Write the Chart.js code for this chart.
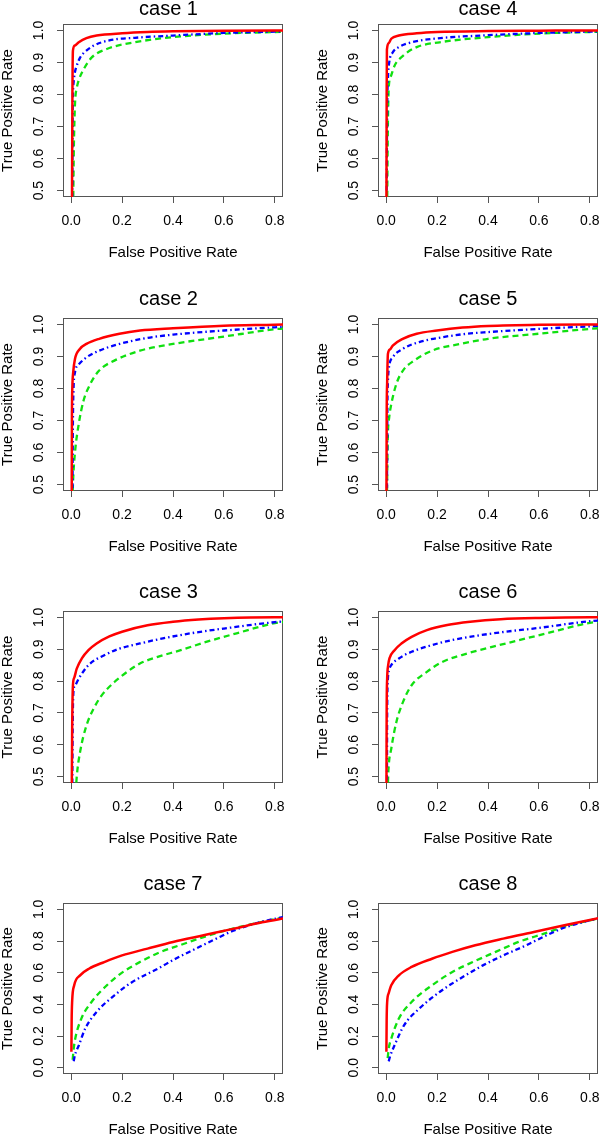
<!DOCTYPE html>
<html><head><meta charset="utf-8">
<script src="https://cdn.jsdelivr.net/npm/chart.js@4.4.1/dist/chart.umd.min.js"></script>
<style>
html,body{margin:0;padding:0;background:#fff;width:600px;height:1136px;overflow:hidden;position:relative}
canvas{position:absolute}
</style></head><body>
<script>
// ---- data ----
const caseTitles = ['case 1','case 2','case 3','case 4','case 5','case 6','case 7','case 8'];
const xTicks = [0, 0.2, 0.4, 0.6, 0.8];
const yTicksHigh = [0.5, 0.6, 0.7, 0.8, 0.9, 1.0];
const yTicksFull = [0, 0.2, 0.4, 0.6, 0.8, 1.0];
const xLabel = 'False Positive Rate';
const yLabel = 'True Positive Rate';

// [false positive rate, true positive rate]
const case1Red = [[0.003,0.40],[0.005,0.80],[0.007,0.937],[0.015,0.953],[0.03,0.963],[0.06,0.976],[0.1,0.984],[0.2,0.991],[0.3,0.995],[0.4,0.997],[0.6,0.999],[0.8,1.0],[0.85,1.0]];
const case1Blue = [[0.004,0.40],[0.006,0.75],[0.01,0.84],[0.015,0.87],[0.022,0.89],[0.035,0.915],[0.05,0.93],[0.09,0.953],[0.15,0.969],[0.25,0.977],[0.4,0.984],[0.6,0.992],[0.8,0.996],[0.85,0.997]];
const case1Green = [[0.008,0.45],[0.01,0.60],[0.013,0.72],[0.016,0.785],[0.022,0.82],[0.03,0.845],[0.05,0.88],[0.08,0.915],[0.14,0.942],[0.25,0.963],[0.4,0.979],[0.6,0.99],[0.8,0.995],[0.85,0.996]];

const case2Red = [[0.002,0.40],[0.003,0.70],[0.005,0.81],[0.008,0.85],[0.015,0.892],[0.035,0.924],[0.06,0.939],[0.11,0.955],[0.19,0.971],[0.27,0.981],[0.4,0.988],[0.6,0.996],[0.8,0.999],[0.85,1.0]];
const case2Blue = [[0.005,0.45],[0.007,0.70],[0.009,0.79],[0.015,0.85],[0.03,0.875],[0.06,0.897],[0.11,0.918],[0.19,0.939],[0.3,0.958],[0.4,0.968],[0.6,0.981],[0.8,0.991],[0.85,0.993]];
const case2Green = [[0.005,0.45],[0.008,0.52],[0.015,0.60],[0.03,0.69],[0.048,0.76],[0.075,0.814],[0.11,0.856],[0.17,0.887],[0.27,0.918],[0.4,0.939],[0.6,0.962],[0.8,0.985],[0.85,0.988]];

const case3Red = [[0.002,0.40],[0.004,0.65],[0.007,0.787],[0.012,0.81],[0.022,0.839],[0.042,0.871],[0.068,0.897],[0.1,0.918],[0.15,0.94],[0.2,0.955],[0.3,0.975],[0.4,0.986],[0.5,0.993],[0.6,0.997],[0.8,1.0],[0.85,1.0]];
const case3Blue = [[0.004,0.40],[0.006,0.65],[0.009,0.766],[0.015,0.785],[0.03,0.808],[0.068,0.85],[0.13,0.881],[0.19,0.902],[0.27,0.918],[0.36,0.934],[0.47,0.95],[0.6,0.965],[0.8,0.985],[0.85,0.988]];
const case3Green = [[0.018,0.45],[0.022,0.50],[0.035,0.577],[0.06,0.66],[0.088,0.713],[0.12,0.755],[0.17,0.797],[0.22,0.829],[0.27,0.855],[0.34,0.876],[0.43,0.897],[0.53,0.923],[0.65,0.95],[0.8,0.982],[0.85,0.987]];

const case4Red = [[0.001,0.40],[0.002,0.80],[0.003,0.94],[0.01,0.96],[0.02,0.974],[0.05,0.984],[0.12,0.991],[0.2,0.995],[0.4,0.998],[0.6,0.999],[0.8,1.0],[0.85,1.0]];
const case4Blue = [[0.002,0.50],[0.004,0.75],[0.007,0.85],[0.012,0.90],[0.025,0.93],[0.05,0.948],[0.1,0.963],[0.2,0.975],[0.4,0.985],[0.6,0.992],[0.8,0.996],[0.85,0.997]];
const case4Green = [[0.004,0.45],[0.006,0.65],[0.008,0.76],[0.01,0.82],[0.02,0.86],[0.033,0.89],[0.065,0.92],[0.12,0.948],[0.21,0.963],[0.4,0.979],[0.6,0.99],[0.8,0.995],[0.85,0.996]];

const case5Red = [[0.001,0.40],[0.002,0.70],[0.004,0.82],[0.007,0.908],[0.015,0.922],[0.026,0.934],[0.065,0.955],[0.12,0.971],[0.2,0.981],[0.3,0.99],[0.4,0.995],[0.6,0.999],[0.8,1.0],[0.85,1.0]];
const case5Blue = [[0.003,0.45],[0.005,0.75],[0.007,0.82],[0.01,0.86],[0.026,0.897],[0.066,0.924],[0.13,0.945],[0.22,0.96],[0.32,0.971],[0.4,0.976],[0.6,0.986],[0.8,0.994],[0.85,0.996]];
const case5Green = [[0.003,0.45],[0.005,0.58],[0.007,0.66],[0.012,0.71],[0.02,0.75],[0.04,0.814],[0.066,0.856],[0.11,0.887],[0.18,0.918],[0.29,0.939],[0.4,0.955],[0.6,0.971],[0.8,0.986],[0.85,0.989]];

const case6Red = [[0.001,0.40],[0.002,0.70],[0.004,0.808],[0.008,0.85],[0.013,0.871],[0.033,0.897],[0.06,0.918],[0.1,0.939],[0.16,0.96],[0.24,0.976],[0.33,0.986],[0.45,0.994],[0.6,0.998],[0.8,1.0],[0.85,1.0]];
const case6Blue = [[0.003,0.45],[0.004,0.70],[0.007,0.808],[0.012,0.835],[0.02,0.85],[0.05,0.871],[0.1,0.892],[0.18,0.913],[0.26,0.929],[0.37,0.944],[0.47,0.955],[0.6,0.967],[0.8,0.988],[0.85,0.991]];
const case6Green = [[0.006,0.45],[0.009,0.52],[0.02,0.587],[0.04,0.671],[0.066,0.734],[0.1,0.787],[0.16,0.829],[0.22,0.86],[0.32,0.887],[0.42,0.908],[0.55,0.934],[0.68,0.96],[0.8,0.983],[0.85,0.987]];

const case7Red = [[0.001,0.10],[0.002,0.30],[0.004,0.42],[0.012,0.52],[0.035,0.583],[0.07,0.625],[0.13,0.667],[0.2,0.709],[0.3,0.752],[0.4,0.794],[0.52,0.836],[0.64,0.878],[0.75,0.918],[0.85,0.947]];
const case7Blue = [[0.01,0.04],[0.015,0.08],[0.03,0.14],[0.055,0.246],[0.1,0.352],[0.17,0.457],[0.24,0.541],[0.34,0.625],[0.41,0.688],[0.49,0.752],[0.57,0.815],[0.64,0.867],[0.74,0.918],[0.85,0.957]];
const case7Green = [[0.006,0.05],[0.01,0.12],[0.016,0.183],[0.04,0.31],[0.08,0.415],[0.14,0.52],[0.2,0.60],[0.27,0.667],[0.35,0.73],[0.43,0.775],[0.52,0.825],[0.61,0.868],[0.72,0.91],[0.85,0.955]];

const case8Red = [[0.001,0.10],[0.002,0.30],[0.004,0.415],[0.01,0.47],[0.02,0.52],[0.05,0.583],[0.1,0.636],[0.18,0.688],[0.26,0.731],[0.35,0.773],[0.46,0.815],[0.58,0.857],[0.7,0.899],[0.85,0.95]];
const case8Blue = [[0.01,0.04],[0.015,0.07],[0.033,0.141],[0.07,0.267],[0.13,0.373],[0.21,0.478],[0.29,0.562],[0.38,0.646],[0.46,0.709],[0.55,0.773],[0.63,0.836],[0.71,0.89],[0.85,0.95]];
const case8Green = [[0.006,0.06],[0.01,0.12],[0.02,0.183],[0.05,0.31],[0.1,0.415],[0.18,0.52],[0.26,0.604],[0.34,0.667],[0.43,0.731],[0.52,0.794],[0.62,0.846],[0.7,0.89],[0.85,0.95]];

// ---- panels ----
const panels = [
  {title: caseTitles[0], red: case1Red, blue: case1Blue, green: case1Green, yTicks: yTicksHigh, yMin: 0.48, yMax: 1.02, col: 0, row: 0},
  {title: caseTitles[1], red: case2Red, blue: case2Blue, green: case2Green, yTicks: yTicksHigh, yMin: 0.48, yMax: 1.02, col: 0, row: 1},
  {title: caseTitles[2], red: case3Red, blue: case3Blue, green: case3Green, yTicks: yTicksHigh, yMin: 0.48, yMax: 1.02, col: 0, row: 2},
  {title: caseTitles[3], red: case4Red, blue: case4Blue, green: case4Green, yTicks: yTicksHigh, yMin: 0.48, yMax: 1.02, col: 1, row: 0},
  {title: caseTitles[4], red: case5Red, blue: case5Blue, green: case5Green, yTicks: yTicksHigh, yMin: 0.48, yMax: 1.02, col: 1, row: 1},
  {title: caseTitles[5], red: case6Red, blue: case6Blue, green: case6Green, yTicks: yTicksHigh, yMin: 0.48, yMax: 1.02, col: 1, row: 2},
  {title: caseTitles[6], red: case7Red, blue: case7Blue, green: case7Green, yTicks: yTicksFull, yMin: -0.04, yMax: 1.04, col: 0, row: 3},
  {title: caseTitles[7], red: case8Red, blue: case8Blue, green: case8Green, yTicks: yTicksFull, yMin: -0.04, yMax: 1.04, col: 1, row: 3}
];

// ---- layout / style ----
const FONT = '"Liberation Sans", Arial, Helvetica, sans-serif';
const colLeft = [0, 315];
const rowBoxTop = [24, 318, 611, 903];
const rowBoxH = [173, 173, 172, 171];
const rowTitleGap = [9.5, 13.5, 13.5, 13.5];
const PAD_TOP = 40, XAXIS_H = 70, YAXIS_W = 63, CANVAS_W = 300, PAD_RIGHT = 17;
const AXIS_GRAY = '#555555';

const plotBox = {
  id: 'plotBox',
  beforeDatasetsDraw(chart) {
    const {left, top, right, bottom} = chart.chartArea;
    const ctx = chart.ctx;
    ctx.save();
    ctx.strokeStyle = AXIS_GRAY;
    ctx.lineWidth = 1;
    ctx.strokeRect(Math.round(left) + 0.5, Math.round(top) + 0.5, Math.round(right - left) - 1, Math.round(bottom - top) - 1);
    ctx.restore();
  }
};
const panelTitle = {
  id: 'panelTitle',
  afterDraw(chart, args, opts) {
    const ctx = chart.ctx;
    ctx.save();
    ctx.font = '20px ' + FONT;
    ctx.fillStyle = '#000';
    ctx.textAlign = 'center';
    ctx.textBaseline = 'alphabetic';
    ctx.fillText(opts.text, opts.x, opts.y);
    ctx.restore();
  }
};

function toXY(arr) { return arr.map(p => ({x: p[0], y: p[1]})); }

panels.forEach(p => {
  const cv = document.createElement('canvas');
  const h = PAD_TOP + rowBoxH[p.row] + XAXIS_H;
  cv.width = CANVAS_W; cv.height = h;
  cv.style.width = CANVAS_W + 'px'; cv.style.height = h + 'px';
  cv.style.left = colLeft[p.col] + 'px';
  cv.style.top = (rowBoxTop[p.row] - PAD_TOP) + 'px';
  document.body.appendChild(cv);
  const titleX = (p.col === 0 && p.row < 3) ? 168.5 : 173;
  new Chart(cv, {
    type: 'line',
    data: {
      datasets: [
        {label: 'red', data: toXY(p.red), borderColor: '#ff0000', borderWidth: 2.5, borderCapStyle: 'butt'},
        {label: 'blue', data: toXY(p.blue), borderColor: '#0000ff', borderWidth: 2.3, borderDash: [5, 3, 1.5, 3], borderCapStyle: 'butt'},
        {label: 'green', data: toXY(p.green), borderColor: '#10e010', borderWidth: 2.3, borderDash: [6, 4], borderCapStyle: 'butt'}
      ]
    },
    options: {
      responsive: false,
      animation: false,
      devicePixelRatio: 1,
      layout: {padding: {top: PAD_TOP, right: PAD_RIGHT, bottom: 0, left: 0}},
      elements: {point: {radius: 0, hoverRadius: 0}, line: {cubicInterpolationMode: 'monotone', fill: false}},
      datasets: {line: {clip: 0}},
      plugins: {
        legend: {display: false},
        tooltip: {enabled: false},
        title: {display: false},
        panelTitle: {text: p.title, x: titleX, y: PAD_TOP - rowTitleGap[p.row]}
      },
      scales: {
        x: {
          type: 'linear', min: -0.032, max: 0.832,
          afterBuildTicks: s => { s.ticks = xTicks.map(v => ({value: v})); },
          afterFit: s => { s.height = XAXIS_H; s.paddingLeft = 0; s.paddingRight = 0; },
          ticks: {autoSkip: false, maxRotation: 0, minRotation: 0, padding: 9.6, color: '#000',
                  font: {family: FONT, size: 14}, callback: v => Number(v).toFixed(1)},
          grid: {display: true, drawOnChartArea: false, drawTicks: true, tickLength: 6, color: AXIS_GRAY, lineWidth: 1},
          border: {display: false},
          title: {display: true, text: xLabel, color: '#000', font: {family: FONT, size: 15, lineHeight: 1}, padding: {top: 0, bottom: 6.5}}
        },
        y: {
          type: 'linear', min: p.yMin, max: p.yMax,
          afterBuildTicks: s => { s.ticks = p.yTicks.map(v => ({value: v})); },
          afterFit: s => { s.width = YAXIS_W; s.paddingTop = 0; s.paddingBottom = 0; },
          ticks: {autoSkip: false, minRotation: 90, maxRotation: 90, crossAlign: 'center', padding: 8.3, color: '#000',
                  font: {family: FONT, size: 14}, callback: v => Number(v).toFixed(1)},
          grid: {display: true, drawOnChartArea: false, drawTicks: true, tickLength: 6, color: AXIS_GRAY, lineWidth: 1},
          border: {display: false},
          title: {display: true, text: yLabel, color: '#000', font: {family: FONT, size: 15, lineHeight: 1}, padding: {top: 0.8, bottom: 0}}
        }
      }
    },
    plugins: [plotBox, panelTitle]
  });
});
</script>
</body></html>
